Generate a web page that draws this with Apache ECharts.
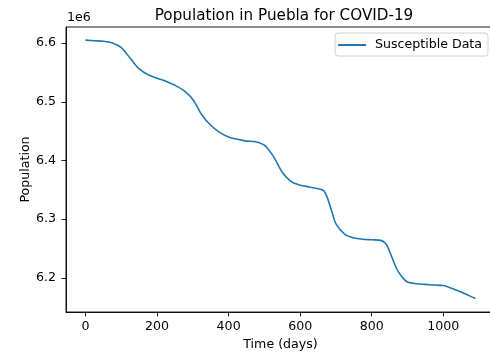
<!DOCTYPE html>
<html>
<head>
<meta charset="utf-8">
<script src="https://cdn.jsdelivr.net/npm/echarts@6/dist/echarts.min.js"></script>
<style>
  html, body { margin: 0; padding: 0; background: #fff; }
  #chart { width: 490px; height: 352px; }
</style>
</head>
<body>
<div id="chart"></div>
<script>
const LINE_COLOR = '#1f77b4'
const FONT = 'DejaVu Sans'
const FS = 12.6

// days and susceptible population
const days = [0, 25, 50, 75, 100, 125, 150, 175, 200, 225, 250, 275, 300, 325, 350, 375,
  400, 425, 450, 475, 500, 525, 550, 575, 600, 625, 650, 665, 675, 690, 700, 725, 750,
  775, 800, 825, 840, 850, 865, 875, 890, 900, 925, 950, 975, 1000, 1025, 1050, 1075, 1090]
const susceptible = [6.605, 6.604, 6.603, 6.600, 6.592, 6.574, 6.556, 6.546, 6.540, 6.535,
  6.528, 6.519, 6.504, 6.478, 6.460, 6.448, 6.440, 6.436, 6.433, 6.432, 6.426, 6.407,
  6.380, 6.364, 6.358, 6.355, 6.352, 6.349, 6.338, 6.310, 6.292, 6.274, 6.268, 6.266,
  6.265, 6.264, 6.258, 6.245, 6.222, 6.210, 6.198, 6.193, 6.190, 6.189, 6.188, 6.187,
  6.182, 6.176, 6.169, 6.165].map(v => v * 1e6)

const xTicks = [0, 200, 400, 600, 800, 1000]
const yTicks = [6.2e6, 6.3e6, 6.4e6, 6.5e6, 6.6e6]

const chart = echarts.init(document.getElementById('chart'))

chart.setOption({
  animation: false,
  backgroundColor: '#fff',
  textStyle: { fontFamily: FONT },
  title: {
    text: 'Population in Puebla for COVID-19',
    left: 279,
    textAlign: 'center',
    top: 4,
    textStyle: { fontFamily: FONT, fontSize: 15.2, fontWeight: 'normal', color: '#000' }
  },
  graphic: [{
    type: 'text',
    left: 67,
    top: 11,
    style: { text: '1e6', font: FS + 'px "DejaVu Sans"', fill: '#000' }
  }],
  legend: {
    right: 2,
    top: 33,
    padding: [5, 6, 4, 3],
    itemWidth: 28,
    itemHeight: 2,
    itemGap: 8,
    backgroundColor: '#fff',
    borderColor: '#d0d0d0',
    borderWidth: 1,
    borderRadius: 3,
    textStyle: { fontFamily: FONT, fontSize: FS, lineHeight: 14, color: '#000', padding: [0, 0, 0, 4] },
    data: [{ name: 'Susceptible Data', icon: 'rect' }]
  },
  grid: {
    left: 66,
    right: -5,
    top: 27,
    bottom: 40,
    outerBoundsMode: 'none',
    show: true,
    borderColor: '#000',
    borderWidth: 0.9,
    backgroundColor: '#fff'
  },
  xAxis: {
    type: 'value',
    min: -54.5,
    max: 1144.5,
    name: 'Time (days)',
    nameLocation: 'middle',
    nameGap: 26,
    nameTextStyle: { fontFamily: FONT, fontSize: FS, color: '#000' },
    splitLine: { show: false },
    axisLine: { show: true, onZero: false, lineStyle: { color: '#000', width: 0.9 } },
    axisTick: { show: true, length: 4.5, customValues: xTicks, lineStyle: { color: '#000', width: 0.9 } },
    axisLabel: {
      customValues: xTicks,
      color: '#000',
      fontSize: FS,
      fontFamily: FONT,
      margin: 8,
      formatter: v => String(v)
    }
  },
  yAxis: {
    type: 'value',
    min: 6.142e6,
    max: 6.6273e6,
    name: 'Population',
    nameLocation: 'middle',
    nameGap: 34,
    nameRotate: 90,
    nameMoveOverlap: false,
    nameTextStyle: { fontFamily: FONT, fontSize: FS, color: '#000' },
    splitLine: { show: false },
    axisLine: { show: true, onZero: false, lineStyle: { color: '#000', width: 0.9 } },
    axisTick: { show: true, length: 4.5, customValues: yTicks, lineStyle: { color: '#000', width: 0.9 } },
    axisLabel: {
      customValues: yTicks,
      color: '#000',
      fontSize: FS,
      fontFamily: FONT,
      margin: 10,
      formatter: v => (v / 1e6).toFixed(1)
    }
  },
  series: [{
    name: 'Susceptible Data',
    type: 'line',
    data: days.map((d, i) => [d, susceptible[i]]),
    smooth: 0.3,
    symbol: 'none',
    lineStyle: { color: LINE_COLOR, width: 1.6 },
    itemStyle: { color: LINE_COLOR }
  }]
})
</script>
</body>
</html>
